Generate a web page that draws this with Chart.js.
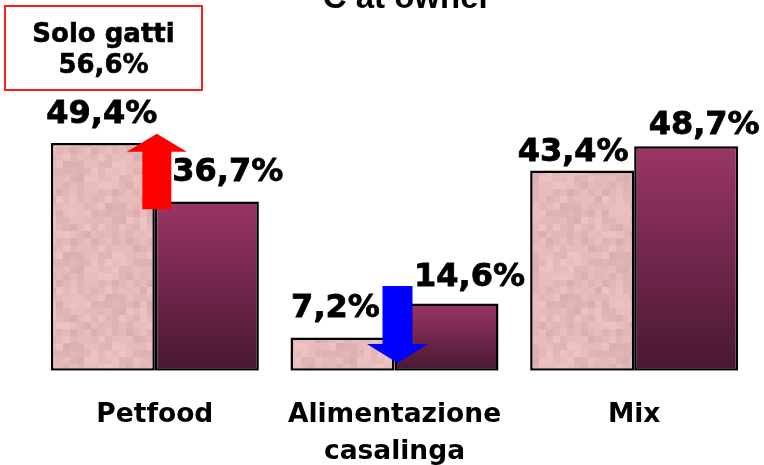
<!DOCTYPE html>
<html>
<head>
<meta charset="utf-8">
<script src="https://cdn.jsdelivr.net/npm/chart.js@4/dist/chart.umd.min.js"></script>
<style>
html,body{margin:0;padding:0;background:#fff;}
#wrap{position:relative;width:764px;height:465px;overflow:hidden;}
canvas{display:block;}
</style>
</head>
<body>
<div id="wrap"><canvas id="c" width="764" height="465"></canvas></div>
<script>
const categories = ["Petfood", ["Alimentazione", "casalinga"], "Mix"];
const seriesA = [49.4, 7.2, 43.4];
const seriesB = [36.7, 14.6, 48.7];
const labelsA = ["49,4%", "7,2%", "43,4%"];
const labelsB = ["36,7%", "14,6%", "48,7%"];
const titleText = "C at owner";
const boxLines = ["Solo gatti", "56,6%"];

const FONT = "'DejaVu Sans', Verdana, sans-serif";

// deterministic pink mottled texture (soft blocks)
function makePinkPattern(ctx) {
  const c = document.createElement('canvas');
  const cell = 7, n = 13;
  c.width = c.height = cell * n;
  const g = c.getContext('2d');
  const shades = ['#e8bcbc', '#e5b9b9', '#eabebe', '#e0b3b4', '#e7bbbb', '#ecc1c1', '#deb1b2', '#e3b7b7', '#e9bdbd', '#e2b5b6', '#edc2c2', '#e6baba', '#dbaeb0'];
  for (let i = 0; i < n; i++) {
    for (let j = 0; j < n; j++) {
      const h = (i * 5 + j * 8 + ((i * j * 3) % 7)) % shades.length;
      g.fillStyle = shades[h];
      g.fillRect(i * cell, j * cell, cell, cell);
    }
  }
  return ctx.createPattern(c, 'repeat');
}

const ctx = document.getElementById('c').getContext('2d');
const pinkPattern = makePinkPattern(ctx);

function darkGradient(context) {
  const chart = context.chart;
  const area = chart.chartArea;
  if (!area || context.type !== 'data') return '#7a2a52';
  const y = chart.scales.y;
  const top = y.getPixelForValue(context.raw);
  const base = y.getPixelForValue(0);
  const gr = chart.ctx.createLinearGradient(0, top, 0, base);
  gr.addColorStop(0, '#9b3567');
  gr.addColorStop(1, '#481831');
  return gr;
}

const overlayPlugin = {
  id: 'overlay',
  afterDatasetsDraw(chart, args, opts) {
    const c = chart.ctx;
    const ys = chart.scales.y;
    c.save();
    // value labels
    c.fillStyle = '#000';
    c.strokeStyle = '#000';
    c.lineWidth = 0.8;
    c.font = "bold 32px " + FONT;
    c.textAlign = 'center';
    c.textBaseline = 'alphabetic';
    [[0, labelsA, opts.offA], [1, labelsB, opts.offB]].forEach(([di, labs, offs]) => {
      const meta = chart.getDatasetMeta(di);
      meta.data.forEach((bar, i) => {
        c.fillText(labs[i], bar.x + offs[i][0], bar.y - offs[i][1]);
        c.strokeText(labs[i], bar.x + offs[i][0], bar.y - offs[i][1]);
      });
    });
    // arrows
    opts.arrows.forEach(a => {
      const m0 = chart.getDatasetMeta(0).data[a.index];
      const xc = m0.x + m0.width / 2 + a.dx;
      const yStart = ys.getPixelForValue(a.from);
      const yTip = ys.getPixelForValue(a.to);
      const dir = yTip < yStart ? -1 : 1;
      const yHead = yTip - dir * a.headLen;
      c.fillStyle = a.color;
      c.beginPath();
      c.moveTo(xc - a.shaft / 2, yStart);
      c.lineTo(xc - a.shaft / 2, yHead);
      c.lineTo(xc - a.head / 2, yHead);
      c.lineTo(xc, yTip);
      c.lineTo(xc + a.head / 2, yHead);
      c.lineTo(xc + a.shaft / 2, yHead);
      c.lineTo(xc + a.shaft / 2, yStart);
      c.closePath();
      c.fill();
    });
    // box
    const b = opts.box;
    c.strokeStyle = '#ff1a1a';
    c.lineWidth = 2;
    c.fillStyle = '#fff';
    c.fillRect(b.x, b.y, b.w, b.h);
    c.strokeRect(b.x, b.y, b.w, b.h);
    c.fillStyle = '#000';
    c.strokeStyle = '#000';
    c.lineWidth = 0.6;
    c.font = "bold 26px " + FONT;
    c.textAlign = 'center';
    c.fillText(boxLines[0], b.x + b.w / 2, b.y + 36);
    c.strokeText(boxLines[0], b.x + b.w / 2, b.y + 36);
    c.fillText(boxLines[1], b.x + b.w / 2, b.y + 67);
    c.strokeText(boxLines[1], b.x + b.w / 2, b.y + 67);
    // title (clipped at top)
    c.font = "bold 33px 'Liberation Sans', Arial, sans-serif";
    c.fillText(titleText, 407, 8);
    c.restore();
  }
};

new Chart(ctx, {
  type: 'bar',
  data: {
    labels: categories,
    datasets: [
      {
        label: 'A',
        data: seriesA,
        backgroundColor: pinkPattern,
        borderColor: '#000',
        borderWidth: 2.5,
        borderSkipped: false
      },
      {
        label: 'B',
        data: seriesB,
        backgroundColor: darkGradient,
        borderColor: '#000',
        borderWidth: 2.5,
        borderSkipped: false
      }
    ]
  },
  options: {
    responsive: false,
    animation: false,
    devicePixelRatio: 1,
    layout: { padding: { left: 35, right: 10, top: 94, bottom: -32 } },
    plugins: {
      legend: { display: false },
      tooltip: { enabled: false },
      title: { display: false },
      overlay: {
        offA: [[-1, 20], [-7, 21], [-9, 10]],
        offB: [[21, 20], [23, 17], [18, 12]],
        arrows: [
          { index: 0, from: 35.0, to: 51.4, headLen: 18, shaft: 29, head: 60, dx: 2, color: '#ff0000' },
          { index: 1, from: 18.4, to: 1.7, headLen: 19, shaft: 30, head: 61, dx: 3, color: '#0000ff' }
        ],
        box: { x: 5, y: 6, w: 197, h: 84 }
      }
    },
    datasets: {
      bar: { categoryPercentage: 0.868, barPercentage: 1.0 }
    },
    scales: {
      x: {
        grid: { display: false, drawTicks: false },
        border: { display: false },
        ticks: {
          color: '#000',
          padding: 26,
          maxRotation: 0,
          autoSkip: false,
          font: { family: FONT, size: 26.5, weight: 'bold', lineHeight: 1.4 }
        }
      },
      y: {
        display: false,
        min: 0,
        max: 60
      }
    }
  },
  plugins: [overlayPlugin]
});
</script>
</body>
</html>
